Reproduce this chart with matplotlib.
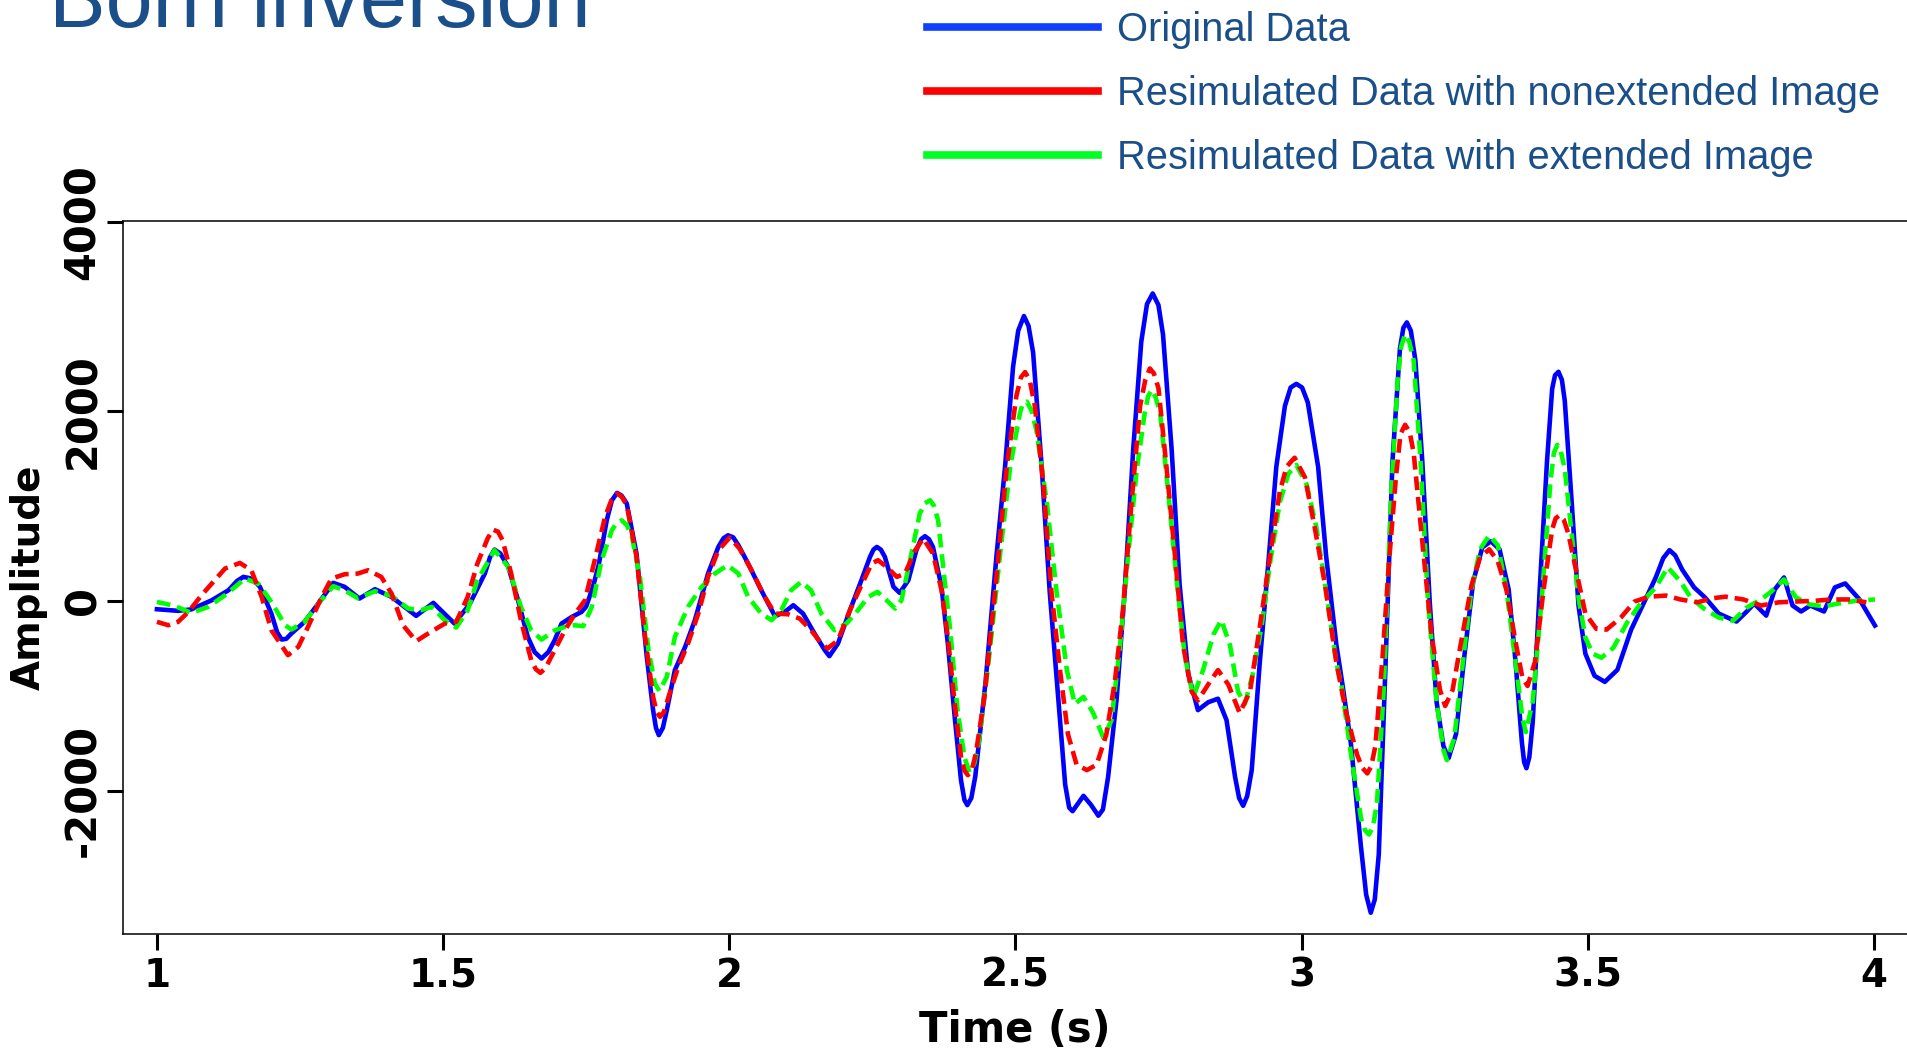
import matplotlib
matplotlib.use("Agg")
import matplotlib.pyplot as plt
from matplotlib.lines import Line2D

# Original data (blue, solid)
t_orig = [1.000, 1.037, 1.060, 1.096, 1.125, 1.151, 1.172, 1.180, 1.200, 1.218,
          1.235, 1.258, 1.282, 1.308, 1.328, 1.354, 1.381, 1.410, 1.453, 1.483,
          1.520, 1.547, 1.573, 1.590, 1.614, 1.631, 1.648, 1.672, 1.695, 1.707,
          1.725, 1.742, 1.750, 1.762, 1.772, 1.786, 1.804, 1.821, 1.838, 1.856,
          1.867, 1.877, 1.891, 1.905, 1.923, 1.940, 1.963, 1.981, 1.998, 2.016,
          2.033, 2.056, 2.080, 2.097, 2.112, 2.129, 2.149, 2.167, 2.175, 2.190,
          2.211, 2.231, 2.246, 2.258, 2.272, 2.287, 2.298, 2.313, 2.327, 2.342,
          2.356, 2.371, 2.382, 2.394, 2.405, 2.416, 2.430, 2.448, 2.467, 2.482,
          2.496, 2.505, 2.515, 2.523, 2.531, 2.546, 2.560, 2.575, 2.587, 2.600,
          2.619, 2.645, 2.662, 2.677, 2.691, 2.706, 2.720, 2.730, 2.740, 2.750,
          2.758, 2.773, 2.787, 2.802, 2.819, 2.837, 2.854, 2.869, 2.884, 2.898,
          2.913, 2.927, 2.942, 2.956, 2.971, 2.991, 3.011, 3.029, 3.043, 3.061,
          3.072, 3.086, 3.104, 3.113, 3.121, 3.128, 3.135, 3.147, 3.159, 3.172,
          3.184, 3.199, 3.211, 3.224, 3.236, 3.248, 3.257, 3.270, 3.285, 3.300,
          3.316, 3.331, 3.346, 3.362, 3.374, 3.385, 3.393, 3.404, 3.417, 3.429,
          3.438, 3.449, 3.460, 3.472, 3.484, 3.496, 3.512, 3.530, 3.552, 3.576,
          3.601, 3.619, 3.643, 3.665, 3.686, 3.705, 3.729, 3.760, 3.778, 3.791,
          3.812, 3.827, 3.843, 3.858, 3.873, 3.889, 3.913, 3.932, 3.950, 3.975,
          4.002]
amp_orig = [-88, -105, -90, 7, 112, 253, 200, 148, -134, -408,
            -344, -221, -28, 190, 148, 25, 123, 42, -158, -21,
            -239, -28, 288, 541, 358, 7, -380, -608, -415, -239,
            -169, -116, -60, 150, 380, 850, 1139, 1026, 499, -590,
            -1153, -1416, -1153, -731, -485, -204, 288, 569, 692, 587,
            394, 112, -162, -116, -46, -134, -344, -520, -583, -450,
            -98, 218, 464, 569, 464, 148, 84, 218, 534, 682,
            569, 148, -450, -1223, -1891, -2154, -1850, -850, 474, 1416,
            2470, 2850, 3004, 2900, 2620, 1416, 98, -1032, -1935, -2218,
            -2056, -2266, -1860, -1032, 98, 1604, 2733, 3130, 3242, 3120,
            2809, 1604, 173, -768, -1152, -1069, -1032, -1258, -1860, -2161,
            -1785, -655, 399, 1416, 2056, 2289, 2093, 1416, 474, -467,
            -900, -1489, -2600, -3100, -3289, -3150, -2675, -642, 1476, 2662,
            2937, 2535, 1476, -7, -1066, -1532, -1659, -1405, -557, 205,
            565, 629, 544, 120, -642, -1489, -1765, -1278, 205, 1476,
            2238, 2416, 2111, 1052, -49, -557, -790, -854, -727, -303,
            15, 247, 535, 332, 142, 36, -134, -218, -112, -28,
            -155, 120, 247, -49, -112, -49, -112, 142, 184, 15,
            -260]
# extra readings around the rounded extrema
t_orig_extra = [1.140, 1.162, 1.210, 1.226, 1.582, 1.600, 1.660, 1.684, 1.795, 1.812,
                1.872, 1.884, 1.990, 2.007, 2.252, 2.265, 2.335, 2.349, 2.411, 2.423,
                2.594, 2.608, 2.632, 2.653, 2.891, 2.905, 2.981, 3.001, 3.178, 3.191,
                3.389, 3.398, 3.443, 3.455, 3.632, 3.653]
amp_orig_extra = [210, 240, -330, -400, 460, 500, -540, -540, 1060, 1110,
                  -1340, -1340, 660, 670, 540, 540, 650, 650, -2100, -2080,
                  -2180, -2150, -2150, -2200, -2080, -2060, 2250, 2250, 2880, 2850,
                  -1700, -1650, 2380, 2330, 450, 480]

# Resimulated data with nonextended image (red, dashed)
t_nonext = [1.000, 1.020, 1.037, 1.055, 1.078, 1.119, 1.145, 1.165, 1.183, 1.200,
            1.229, 1.247, 1.264, 1.288, 1.305, 1.328, 1.351, 1.369, 1.392, 1.410,
            1.430, 1.453, 1.474, 1.503, 1.523, 1.543, 1.560, 1.587, 1.604, 1.619,
            1.636, 1.654, 1.670, 1.689, 1.713, 1.730, 1.748, 1.765, 1.783, 1.804,
            1.821, 1.838, 1.853, 1.867, 1.879, 1.894, 1.911, 1.928, 1.946, 1.963,
            1.981, 2.001, 2.018, 2.039, 2.062, 2.080, 2.103, 2.123, 2.143, 2.161,
            2.172, 2.190, 2.211, 2.231, 2.249, 2.260, 2.275, 2.293, 2.307, 2.325,
            2.339, 2.356, 2.371, 2.382, 2.394, 2.405, 2.417, 2.431, 2.446, 2.467,
            2.485, 2.502, 2.517, 2.534, 2.549, 2.563, 2.578, 2.592, 2.607, 2.625,
            2.642, 2.659, 2.674, 2.688, 2.703, 2.718, 2.735, 2.750, 2.764, 2.779,
            2.793, 2.808, 2.819, 2.837, 2.854, 2.872, 2.892, 2.910, 2.927, 2.945,
            2.962, 2.974, 2.988, 3.006, 3.023, 3.041, 3.061, 3.078, 3.097, 3.115,
            3.129, 3.141, 3.153, 3.165, 3.181, 3.196, 3.211, 3.227, 3.242, 3.251,
            3.264, 3.279, 3.297, 3.312, 3.328, 3.343, 3.358, 3.374, 3.386, 3.395,
            3.408, 3.423, 3.438, 3.451, 3.466, 3.481, 3.496, 3.515, 3.533, 3.558,
            3.582, 3.607, 3.637, 3.662, 3.692, 3.717, 3.741, 3.772, 3.803, 3.834,
            3.864, 3.895, 3.926, 3.956, 3.987]
amp_nonext = [-221, -257, -221, -116, 60, 341, 400, 323, 42, -309,
              -573, -485, -274, 42, 235, 281, 288, 323, 253, 77,
              -257, -425, -344, -239, -221, 42, 394, 752, 640, 288,
              -204, -625, -759, -590, -309, -141, 7, 429, 886, 1132,
              1009, 464, -380, -1012, -1223, -1012, -696, -450, -134, 253,
              534, 668, 552, 323, 42, -134, -141, -186, -309, -450,
              -502, -415, -98, 165, 394, 429, 358, 253, 288, 534,
              657, 499, 112, -380, -1082, -1644, -1838, -1609, -1012, 250,
              1416, 2169, 2413, 2056, 1227, 98, -730, -1408, -1728, -1785,
              -1728, -1408, -843, -90, 1039, 2056, 2451, 2244, 1416, 474,
              -467, -956, -1050, -881, -730, -881, -1182, -956, -279, 474,
              1152, 1416, 1510, 1303, 776, 173, -655, -1180, -1620, -1820,
              -1532, -642, 417, 1306, 1857, 1561, 629, -347, -940, -1108,
              -940, -431, 163, 460, 544, 417, 120, -431, -812, -897,
              -642, 120, 756, 904, 714, 290, -134, -294, -303, -176,
              -7, 44, 56, 15, -15, 27, 44, 15, -49, -15,
              -7, 0, 15, 15, -15]
t_nonext_extra = [1.578, 1.596, 1.662, 1.679, 1.794, 1.812, 1.873, 1.886, 2.411, 2.424,
                  2.510, 2.525, 2.727, 2.742, 3.106, 3.122, 3.173, 3.189, 3.444, 3.458]
amp_nonext_extra = [660, 730, -720, -710, 1060, 1100, -1170, -1170, -1790, -1780,
                    2360, 2330, 2330, 2400, -1760, -1740, 1760, 1780, 870, 860]

# Resimulated data with extended image (green, dashed)
t_ext = [1.000, 1.031, 1.060, 1.090, 1.119, 1.154, 1.177, 1.200, 1.224, 1.235,
         1.258, 1.288, 1.308, 1.328, 1.351, 1.381, 1.410, 1.439, 1.462, 1.480,
         1.503, 1.523, 1.543, 1.560, 1.590, 1.614, 1.636, 1.654, 1.672, 1.696,
         1.713, 1.730, 1.745, 1.760, 1.777, 1.795, 1.812, 1.830, 1.844, 1.859,
         1.870, 1.878, 1.891, 1.905, 1.928, 1.952, 1.975, 1.997, 2.016, 2.033,
         2.056, 2.074, 2.091, 2.108, 2.126, 2.143, 2.161, 2.184, 2.205, 2.225,
         2.243, 2.259, 2.278, 2.290, 2.301, 2.316, 2.333, 2.351, 2.365, 2.377,
         2.386, 2.399, 2.411, 2.420, 2.436, 2.454, 2.473, 2.491, 2.508, 2.520,
         2.537, 2.555, 2.572, 2.590, 2.604, 2.619, 2.636, 2.654, 2.668, 2.683,
         2.697, 2.712, 2.726, 2.738, 2.753, 2.767, 2.782, 2.796, 2.811, 2.828,
         2.846, 2.860, 2.875, 2.889, 2.901, 2.915, 2.930, 2.945, 2.962, 2.977,
         2.991, 3.009, 3.026, 3.043, 3.061, 3.070, 3.086, 3.104, 3.118, 3.132,
         3.144, 3.156, 3.168, 3.181, 3.196, 3.208, 3.221, 3.236, 3.248, 3.254,
         3.267, 3.282, 3.297, 3.312, 3.328, 3.343, 3.358, 3.374, 3.386, 3.392,
         3.404, 3.420, 3.435, 3.447, 3.460, 3.472, 3.484, 3.496, 3.509, 3.524,
         3.545, 3.570, 3.595, 3.619, 3.640, 3.662, 3.680, 3.705, 3.729, 3.754,
         3.778, 3.803, 3.821, 3.843, 3.864, 3.889, 3.913, 3.938, 3.968, 4.002]
amp_ext = [-11, -53, -127, -63, 60, 235, 183, -11, -257, -302,
           -221, 14, 155, 112, 28, 102, 53, -81, -98, -63,
           -204, -281, -98, 218, 534, 358, -63, -309, -408, -309,
           -274, -257, -267, -63, 429, 745, 850, 675, 253, -520,
           -871, -949, -801, -380, -63, 148, 288, 376, 288, 42,
           -134, -204, -98, 112, 200, 112, -134, -309, -239, -98,
           42, 95, -11, -81, 7, 429, 921, 1061, 850, 183,
           -300, -1150, -1650, -1810, -1500, -600, 474, 1416, 1980, 2101,
           1792, 1039, 98, -730, -1088, -1013, -1182, -1446, -1258, -467,
           474, 1378, 1980, 2225, 1980, 1152, 211, -580, -1013, -730,
           -354, -203, -467, -956, -1088, -768, -279, 399, 1039, 1340,
           1434, 1227, 776, 98, -655, -900, -1600, -2294, -2464, -2125,
           -897, 1052, 2323, 2810, 2535, 1476, -7, -1066, -1574, -1680,
           -1447, -642, 120, 544, 692, 587, 120, -642, -1236, -1384,
           -1066, 36, 1264, 1645, 1391, 714, 36, -388, -557, -600,
           -494, -218, -7, 142, 354, 205, 36, -91, -176, -210,
           -70, 15, 99, 226, 36, -40, -57, -28, 0, 15]
t_ext_extra = [1.803, 1.821, 2.342, 2.358, 2.428, 2.513, 2.528, 2.732, 2.745, 3.111,
               3.125, 3.174, 3.188, 3.441, 3.453]
amp_ext_extra = [820, 800, 1030, 1000, -1720, 2080, 2010, 2160, 2150, -2420,
                 -2380, 2680, 2740, 1560, 1580]

labels = ["Original Data",
          "Resimulated Data with nonextended Image",
          "Resimulated Data with extended Image"]
xticks = [1, 1.5, 2, 2.5, 3, 3.5, 4]
xticklabels = ["1", "1.5", "2", "2.5", "3", "3.5", "4"]
yticks = [-2000, 0, 2000, 4000]
yticklabels = ["-2000", "0", "2000", "4000"]

navy = "#1B4F8A"


def merged(t, a, t_extra, a_extra):
    pts = sorted(zip(t + t_extra, a + a_extra))
    return [p[0] for p in pts], [p[1] for p in pts]


fig = plt.figure(figsize=(19.07, 10.54), dpi=100)
ax = fig.add_axes([0.0644, 0.1138, 1 - 0.0644, 0.790 - 0.1138])

x, y = merged(t_orig, amp_orig, t_orig_extra, amp_orig_extra)
ax.plot(x, y, color="#0000FF", lw=3.3, solid_joinstyle="round")
x, y = merged(t_ext, amp_ext, t_ext_extra, amp_ext_extra)
ax.plot(x, y, color="#00FF00", lw=3.3, linestyle=(0, (3.0, 1.5)))
x, y = merged(t_nonext, amp_nonext, t_nonext_extra, amp_nonext_extra)
ax.plot(x, y, color="#FF0000", lw=3.3, linestyle=(0, (3.0, 1.5)))

ax.set_xlim(0.9404, 4.058)
ax.set_ylim(-3514, 4003)
ax.spines["right"].set_visible(False)
for s in ["top", "left", "bottom"]:
    ax.spines[s].set_linewidth(1.1)

ax.set_xticks(xticks)
ax.set_xticklabels(xticklabels, fontsize=28, fontweight="bold")
ax.set_yticks(yticks)
ax.set_yticklabels(yticklabels, fontsize=30, fontweight="bold",
                   rotation=90, va="center")
ax.tick_params(direction="out", length=11.5, width=2.2)
ax.tick_params(axis="x", pad=5)
ax.tick_params(axis="y", pad=2)
ax.tick_params(top=False, right=False)

ax.set_xlabel("Time (s)", fontsize=30, fontweight="bold", labelpad=10)
ax.set_ylabel("Amplitude", fontsize=28, fontweight="bold", labelpad=10)

fig.text(49 / 1907, 1 - 27 / 1054, "Born inversion", color=navy,
         fontsize=61, family="Liberation Sans", va="baseline", ha="left")

handles = [Line2D([], [], color="#1040FF", lw=5.5),
           Line2D([], [], color="#FF0000", lw=5.5),
           Line2D([], [], color="#00FF22", lw=5.5)]
fig.legend(handles, labels, loc="upper left", bbox_to_anchor=(927 / 1907, 0.990),
           frameon=False, borderpad=0, borderaxespad=0, handlelength=4.3,
           handletextpad=0.47, labelspacing=0.66,
           prop={"family": "Liberation Sans", "size": 28.7}, labelcolor=navy)

fig.savefig("out.png", dpi=100)
